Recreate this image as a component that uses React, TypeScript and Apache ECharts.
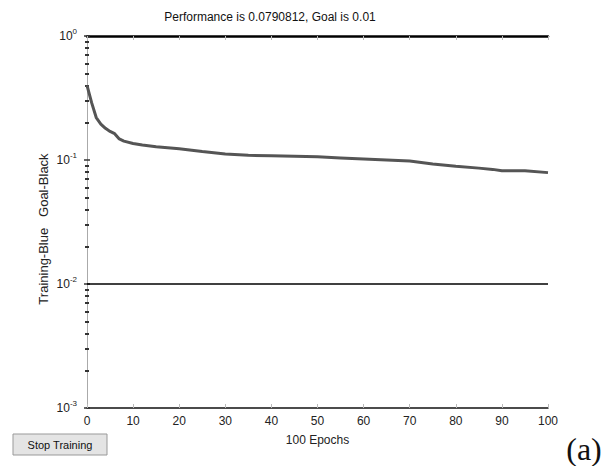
import React, { useEffect, useRef } from "react";
import * as echarts from "echarts";

const epochs = [0, 1, 2, 3, 4, 5, 6, 7, 8, 10, 12, 15, 20, 25, 30, 35, 40, 45, 50, 55, 60, 65, 70, 75, 80, 85, 88, 90, 95, 100];
const performance = [0.40, 0.29, 0.22, 0.195, 0.18, 0.17, 0.163, 0.148, 0.142, 0.136, 0.132, 0.128, 0.123, 0.117, 0.112, 0.109, 0.108, 0.107, 0.106, 0.104, 0.102, 0.100, 0.098, 0.093, 0.089, 0.086, 0.084, 0.082, 0.082, 0.0791];
const goal = 0.01;
const xRange = [0, 100];
const yRange = [0.001, 1];
const titleText = "Performance is 0.0790812, Goal is 0.01";
const xName = "100 Epochs";
const yName = "Training-Blue   Goal-Black";

export default function App() {
  const ref = useRef<HTMLDivElement>(null);
  useEffect(() => {
    const chart = echarts.init(ref.current!, undefined, { renderer: "svg" });
    const font = "Liberation Sans";
    const yAxisBase = {
      type: "log",
      logBase: 10,
      min: yRange[0],
      max: yRange[1],
      splitLine: { show: false },
      axisLine: { show: true, lineStyle: { color: "#aaa", width: 1 } },
      axisTick: { show: true, inside: true, length: 3, lineStyle: { color: "#333", width: 1.5 } },
      minorTick: { show: true, splitNumber: 9, length: 2, lineStyle: { color: "#333", width: 2 } },
    };
    chart.setOption({
      animation: false,
      backgroundColor: "#fff",
      grid: { left: 87, right: 63, top: 36, bottom: 58 },
      xAxis: [
        {
          type: "value",
          min: xRange[0],
          max: xRange[1],
          interval: 10,
          position: "bottom",
          name: xName,
          nameLocation: "middle",
          nameGap: 26,
          nameTextStyle: { fontFamily: font, fontSize: 12, color: "#222" },
          axisLine: { show: true, lineStyle: { color: "#111", width: 1.5 } },
          axisTick: { show: true, inside: true, length: 4, lineStyle: { color: "#bbb" } },
          axisLabel: { fontFamily: font, fontSize: 12, color: "#222", margin: 7 },
          splitLine: { show: false },
        },
        {
          type: "value",
          min: xRange[0],
          max: xRange[1],
          interval: 10,
          position: "top",
          axisLine: { show: true, lineStyle: { color: "#000", width: 2.5 } },
          axisTick: { show: true, inside: true, length: 4, lineStyle: { color: "#bbb" } },
          axisLabel: { show: false },
          splitLine: { show: false },
        },
      ],
      yAxis: [
        {
          ...yAxisBase,
          position: "left",
          axisLabel: {
            margin: 10,
            formatter: (v: number) => `{b|10}{s|${Math.round(Math.log10(v))}}`,
            rich: {
              b: { fontFamily: font, fontSize: 12, color: "#222" },
              s: { fontFamily: font, fontSize: 8, color: "#222", padding: [0, 0, 9, 0] },
            },
          },
        },
        {
          ...yAxisBase,
          position: "right",
          axisLabel: { show: false },
        },
      ],
      graphic: [
        {
          type: "text",
          x: 270,
          y: 17,
          style: { text: titleText, fontFamily: font, fontSize: 12, fill: "#111", align: "center", verticalAlign: "middle" },
        },
        {
          type: "text",
          x: 43,
          y: 229,
          rotation: Math.PI / 2,
          style: { text: yName, fontFamily: font, fontSize: 13, fill: "#222", align: "center", verticalAlign: "middle" },
        },
        {
          type: "rect",
          shape: { x: 13, y: 434, width: 94, height: 21 },
          style: { fill: "#e4e4e4", stroke: "#999", lineWidth: 1 },
        },
        {
          type: "text",
          x: 60,
          y: 445,
          style: { text: "Stop Training", fontFamily: font, fontSize: 11, fill: "#111", align: "center", verticalAlign: "middle" },
        },
        {
          type: "text",
          x: 584,
          y: 449,
          style: { text: "(a)", fontFamily: "Liberation Serif", fontSize: 32, fill: "#111", align: "center", verticalAlign: "middle" },
        },
      ],
      series: [
        {
          type: "line",
          data: epochs.map((e, i) => [e, performance[i]]),
          showSymbol: false,
          lineStyle: { color: "#555", width: 3 },
          z: 3,
        },
        {
          type: "line",
          data: [[xRange[0], goal], [xRange[1], goal]],
          showSymbol: false,
          lineStyle: { color: "#000", width: 1.5 },
          z: 2,
        },
      ],
    });
    return () => chart.dispose();
  }, []);
  return <div ref={ref} style={{ position: "fixed", left: 0, top: 0, width: 611, height: 466 }} />;
}
